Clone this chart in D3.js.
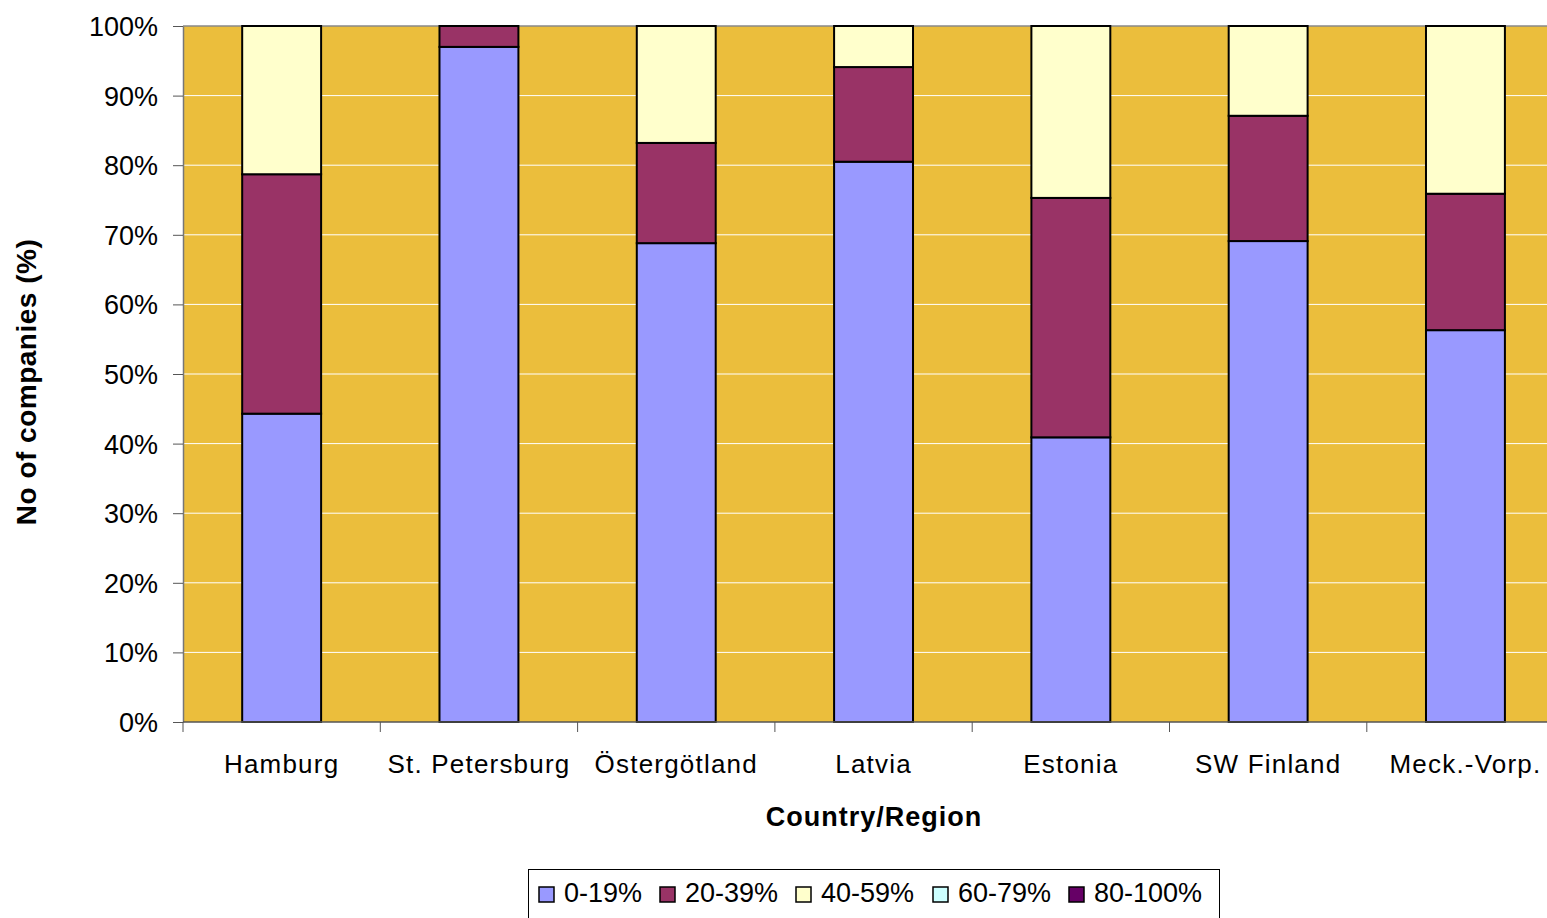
<!DOCTYPE html>
<html>
<head>
<meta charset="utf-8">
<script src="https://cdn.jsdelivr.net/npm/d3@7"></script>
<style>
  html, body { margin: 0; padding: 0; background: #fff; }
  svg { display: block; font-family: Arial, "Liberation Sans", sans-serif; }
</style>
</head>
<body>
<svg id="chart" width="1547" height="918"></svg>
<script>
// Regions and share of companies per class (%)
const regions = ["Hamburg", "St. Petersburg", "Östergötland", "Latvia", "Estonia", "SW Finland", "Meck.-Vorp."];
const seriesNames = ["0-19%", "20-39%", "40-59%", "60-79%", "80-100%"];
const s0to19   = [44.3, 97.0, 68.8, 80.5, 40.9, 69.1, 56.3];
const s20to39  = [34.4,  3.0, 14.4, 13.6, 34.4, 18.0, 19.6];
const s40to59  = [21.3,  0.0, 16.8,  5.9, 24.7, 12.9, 24.1];
const s60to79  = [0, 0, 0, 0, 0, 0, 0];
const s80to100 = [0, 0, 0, 0, 0, 0, 0];
const yTicks = [0, 10, 20, 30, 40, 50, 60, 70, 80, 90, 100];
const colors = ["#9999FF", "#993366", "#FFFFCC", "#CCFFFF", "#660066"];

const seriesValues = [s0to19, s20to39, s40to59, s60to79, s80to100];
const rows = regions.map((r, i) => {
  const o = { region: r };
  seriesNames.forEach((s, k) => { o[s] = seriesValues[k][i]; });
  return o;
});
const stacked = d3.stack().keys(seriesNames)(rows);

const svg = d3.select("#chart");
const plot = { left: 183, top: 26, bottom: 722, bandW: 197.3 };
const plotRight = plot.left + plot.bandW * regions.length;

const x = d3.scaleBand().domain(regions).range([plot.left, plotRight]).paddingInner(0.6).paddingOuter(0.3);
const y = d3.scaleLinear().domain([0, 100]).range([plot.bottom, plot.top]);

// Plot background
svg.append("rect")
  .attr("x", plot.left).attr("y", plot.top)
  .attr("width", plotRight - plot.left).attr("height", plot.bottom - plot.top)
  .attr("fill", "#EBBE3C");

// Horizontal gridlines
svg.append("g").selectAll("line").data(yTicks.filter(t => t > 0 && t < 100)).join("line")
  .attr("x1", plot.left).attr("x2", plotRight)
  .attr("y1", d => y(d)).attr("y2", d => y(d))
  .attr("stroke", "#FFFFFF").attr("stroke-width", 1);

// Top border of plot area
svg.append("line")
  .attr("x1", plot.left).attr("x2", plotRight)
  .attr("y1", plot.top).attr("y2", plot.top)
  .attr("stroke", "#888").attr("stroke-width", 1.5);

// Stacked bars
svg.append("g").selectAll("g").data(stacked).join("g")
  .attr("fill", (d, i) => colors[i])
  .selectAll("rect").data(d => d.filter(p => p[1] - p[0] > 0)).join("rect")
  .attr("x", d => x(d.data.region))
  .attr("width", x.bandwidth())
  .attr("y", d => y(d[1]))
  .attr("height", d => y(d[0]) - y(d[1]))
  .attr("stroke", "#000").attr("stroke-width", 2);

// Y axis
const yAxis = svg.append("g")
  .attr("transform", `translate(${plot.left},0)`)
  .call(d3.axisLeft(y).tickValues(yTicks).tickFormat(d => d + "%").tickSize(10).tickSizeOuter(0));
yAxis.select(".domain").attr("stroke", "#777").attr("stroke-width", 1.5);
yAxis.selectAll(".tick line").attr("stroke", "#555");
yAxis.selectAll(".tick text").attr("font-size", 27).attr("fill", "#000").attr("x", -25).attr("dy", "0.35em");

// X axis: ticks at band boundaries
const bounds = d3.range(regions.length + 1).map(i => plot.left + i * plot.bandW);
svg.append("line")
  .attr("x1", plot.left).attr("x2", plotRight)
  .attr("y1", plot.bottom).attr("y2", plot.bottom)
  .attr("stroke", "#555").attr("stroke-width", 1.5);
svg.append("g").selectAll("line").data(bounds).join("line")
  .attr("x1", d => d).attr("x2", d => d)
  .attr("y1", plot.bottom).attr("y2", plot.bottom + 10)
  .attr("stroke", "#555").attr("stroke-width", 1);
svg.append("g").selectAll("text").data(regions).join("text")
  .attr("x", d => x(d) + x.bandwidth() / 2)
  .attr("y", 773)
  .attr("text-anchor", "middle")
  .attr("font-size", 26)
  .attr("letter-spacing", 1.2)
  .text(d => d);

// Axis titles
svg.append("text")
  .attr("x", 874).attr("y", 826)
  .attr("text-anchor", "middle")
  .attr("font-size", 27).attr("font-weight", "bold")
  .attr("letter-spacing", 1)
  .text("Country/Region");
svg.append("text")
  .attr("transform", "translate(36,382) rotate(-90)")
  .attr("text-anchor", "middle")
  .attr("font-size", 28).attr("font-weight", "bold")
  .attr("letter-spacing", 0.5)
  .text("No of companies (%)");

// Legend
const legend = svg.append("g");
legend.append("rect")
  .attr("x", 528.5).attr("y", 869.5).attr("width", 691).attr("height", 60)
  .attr("fill", "#fff").attr("stroke", "#000").attr("stroke-width", 1);
const legendX = [539, 660, 796, 933, 1069];
seriesNames.forEach((s, i) => {
  legend.append("rect")
    .attr("x", legendX[i]).attr("y", 887).attr("width", 15).attr("height", 15)
    .attr("fill", colors[i]).attr("stroke", "#000").attr("stroke-width", 1.5);
  legend.append("text")
    .attr("x", legendX[i] + 25).attr("y", 902)
    .attr("font-size", 27)
    .text(s);
});
</script>
</body>
</html>
